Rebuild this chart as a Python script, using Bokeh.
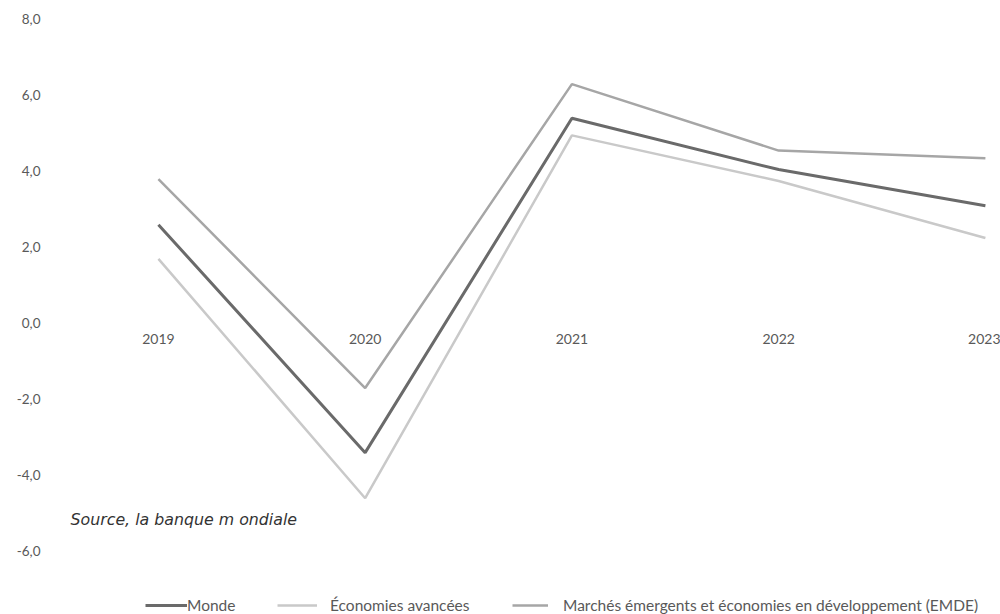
from bokeh.plotting import figure
from bokeh.models import Range1d, LinearAxis, FixedTicker, Legend, LegendItem, Label
from bokeh.embed import file_html
from bokeh.resources import INLINE

years = [2019, 2020, 2021, 2022, 2023]
monde = [2.6, -3.4, 5.4, 4.05, 3.1]
avancees = [1.7, -4.6, 4.95, 3.75, 2.25]
emde = [3.8, -1.7, 6.3, 4.55, 4.35]
y_ticks = [-6, -4, -2, 0, 2, 4, 6, 8]
y_tick_labels = ["-6,0", "-4,0", "-2,0", "0,0", "2,0", "4,0", "6,0", "8,0"]
series_names = ["Monde", "Économies avancées",
                "Marchés émergents et économies en développement (EMDE)"]
source_text = "Source, la banque m ondiale"

FONT = "Lato"
LBL = "#595959"

p = figure(width=1000, height=614, output_backend="svg", toolbar_location=None,
           x_range=Range1d(2018.478, 2023.073), y_range=Range1d(-7.66, 8.5),
           min_border_left=50, min_border_right=0, min_border_top=0, min_border_bottom=0,
           x_axis_location=None, y_axis_location=None)
p.outline_line_color = None
p.xgrid.visible = False
p.ygrid.visible = False
p.background_fill_color = "white"
p.border_fill_color = "white"

# y axis
ya = LinearAxis(ticker=FixedTicker(ticks=y_ticks))
ya.major_label_overrides = {t: s for t, s in zip(y_ticks, y_tick_labels)}
ya.axis_line_color = None
ya.major_tick_line_color = None
ya.minor_tick_line_color = None
ya.major_tick_out = 0
ya.major_label_standoff = 10
ya.major_label_text_font = FONT
ya.major_label_text_font_size = "13.5px"
ya.major_label_text_color = LBL
p.add_layout(ya, "left")

# x axis at y = 0
xa = LinearAxis(ticker=FixedTicker(ticks=years), fixed_location=0)
xa.major_label_overrides = {y: str(y) for y in years}
xa.axis_line_color = None
xa.major_tick_line_color = None
xa.minor_tick_line_color = None
xa.major_tick_out = 0
xa.major_label_standoff = 11
xa.major_label_text_font = FONT
xa.major_label_text_font_size = "14px"
xa.major_label_text_color = LBL
p.add_layout(xa, "below")

r_emde = p.line(years, emde, line_color="#a6a6a6", line_width=2.5)
r_av = p.line(years, avancees, line_color="#c9c9c9", line_width=2.5)
r_monde = p.line(years, monde, line_color="#6a6a6a", line_width=3)

src = Label(x=20, y=86, x_units="screen", y_units="screen", text=source_text,
            text_font="DejaVu Sans", text_font_style="italic", text_font_size="15.8px",
            text_color="#333333")
p.add_layout(src)

positions = [(95, 0), (227, 0), (462, 0)]
glyph_widths = [42, 40, 36]
standoffs = [0, 13, 15]
for r, name, (lx, ly), gw, so in zip([r_monde, r_av, r_emde], series_names, positions,
                                      glyph_widths, standoffs):
    lg = Legend(items=[LegendItem(label=name, renderers=[r])], location=(lx, ly),
                orientation="horizontal", border_line_color=None,
                background_fill_alpha=0, padding=0, margin=0,
                glyph_width=gw, glyph_height=16, label_standoff=so,
                label_text_font=FONT, label_text_font_size="15.5px",
                label_text_color=LBL)
    p.add_layout(lg, "center")

open("out.html", "w").write(file_html(p, INLINE))
